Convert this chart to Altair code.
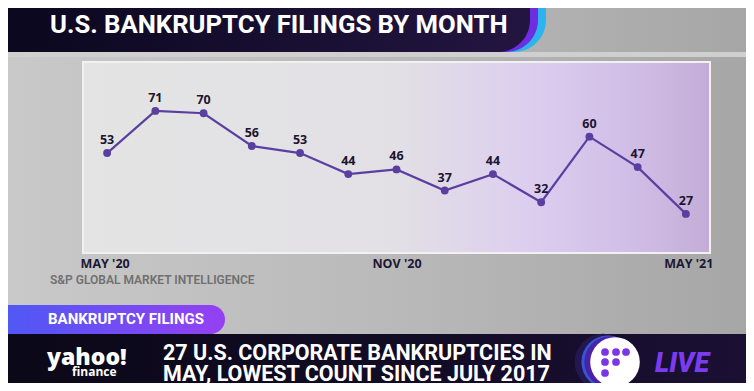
import altair as alt
import pandas as pd

# ---- data ----
months = ["MAY '20", "JUN '20", "JUL '20", "AUG '20", "SEP '20", "OCT '20", "NOV '20",
          "DEC '20", "JAN '21", "FEB '21", "MAR '21", "APR '21", "MAY '21"]
filings = [53, 71, 70, 56, 53, 44, 46, 37, 44, 32, 60, 47, 27]
axis_months = ["MAY '20", "NOV '20", "MAY '21"]

title_text = "U.S. BANKRUPTCY FILINGS BY MONTH"
source_text = "S&P GLOBAL MARKET INTELLIGENCE"
tag_text = "BANKRUPTCY FILINGS"
headline = ["27 U.S. CORPORATE BANKRUPTCIES IN", "MAY, LOWEST COUNT SINCE JULY 2017"]
logo_text = ["yahoo!", "finance"]
live_text = "LIVE"

W, H = 627, 191
PAD = {"left": 75, "top": 54, "right": 36, "bottom": 130}

df = pd.DataFrame({"month": months, "filings": filings})
one = pd.DataFrame({"k": [0]})


def grad(stops, x2=1, y2=0):
    return alt.LinearGradient(
        gradient="linear",
        stops=[alt.GradientStop(color=c, offset=o) for o, c in stops],
        x1=0, y1=0, x2=x2, y2=y2,
    )


def rect(x, x2, y, y2, color, r=0, **kw):
    return alt.Chart(one).mark_rect(color=color, cornerRadius=r, **kw).encode(
        x=alt.value(x), x2=alt.value(x2), y=alt.value(y), y2=alt.value(y2))


def text(t, x, y, size, color, weight="bold", align="left", baseline="alphabetic",
         font="Roboto", style="normal"):
    return alt.Chart(one).mark_text(
        text=t, fontSize=size, color=color, fontWeight=weight, align=align,
        baseline=baseline, font=font, fontStyle=style).encode(x=alt.value(x), y=alt.value(y))


def dot(x, y, size, color):
    return alt.Chart(one).mark_circle(size=size, color=color, opacity=1).encode(
        x=alt.value(x), y=alt.value(y))


# ---- background and banners ----
bg = rect(-80, 670, -60, 330, grad([(0, "#c9c9c9"), (0.5, "#bababa"), (1, "#a6a6a6")]))
under_title = rect(-80, 670, -10, -5, "#cfcfcf")
title_cyan = rect(-140, 463, -120, -10, "#2db4ee", r=32)
title_purple = rect(-140, 455, -120, -10, "#6c2ee0", r=32)
title_navy = rect(-140, 447, -120, -10, grad([(0, "#08061a"), (1, "#231541")]), r=32)
title_txt = text(title_text, -33, -29, 25.7, "#ffffff")

box = rect(0, W, 0, H, grad([(0, "#e4e4e4"), (0.5, "#e2e0e5"), (0.72, "#dccdef"),
                             (0.88, "#d0bde6"), (1, "#c3add7")]),
           stroke="#f1f1f1", strokeWidth=2)

source = text(source_text, -33, 221.5, 12, "#707070", weight=600)

pill = rect(-140, 142, 243, 272, grad([(0, "#3b5ff6"), (1, "#9540f2")]), r=14.5)
pill_txt = text(tag_text, -35, 262, 15, "#ffffff")

bar = rect(-80, 670, 272, 340, grad([(0, "#0b0818"), (0.6, "#130c27"), (1, "#1b1034")]))
logo1 = text(logo_text[0], -36, 303, 23, "#ffffff", weight=800, font="Open Sans")
logo2 = text(logo_text[1], -11, 313.5, 12, "#ffffff", weight=700, font="Open Sans")
head1 = text(headline[0], 80, 298, 21.5, "#ffffff")
head2 = text(headline[1], 80, 318.5, 21.5, "#ffffff")

ring_outer = dot(520, 300, 3217, "#24164f")
ring_blue = dot(525, 300, 2827, "#3457d8")
ring_purple = dot(527, 300, 2640, "#4a22a8")
ring_white = dot(532, 300, 2460, "#ffffff")
logo_dots = [dot(x, y, 60, "#7a36e6") for x, y in
             [(522, 290), (533, 290), (543, 290), (522, 300), (533, 300), (522, 311)]]
live = text(live_text, 572, 310, 27, "#7b3cf0", weight=900, style="italic")

# ---- the data chart ----
xaxis = alt.Axis(values=axis_months, labelFlush=30, labelFlushOffset=27, labelAngle=0,
                 labelFont="Open Sans", labelFontSize=12.5, labelFontWeight="bold",
                 labelColor="#1d1733", labelPadding=10, labelBaseline="middle",
                 domain=False, ticks=False, grid=False, title=None, zindex=1)
xenc = alt.X("month:N", sort=months, scale=alt.Scale(type="point", padding=0.5), axis=xaxis)
yenc = alt.Y("filings:Q", scale=alt.Scale(domain=[10.3, 91.9], nice=False, zero=False), axis=None)

base = alt.Chart(df).encode(x=xenc, y=yenc)
line = base.mark_line(color="#5b3fa0", strokeWidth=2.2)
pts = base.mark_circle(size=62, color="#5b3fa0", opacity=1)
labels = base.mark_text(dy=-13, fontSize=12.5, fontWeight="bold", color="#1c1530",
                        font="Open Sans").encode(text="filings:Q")

chart = alt.layer(
    bg, under_title, title_cyan, title_purple, title_navy, title_txt, box, line, pts, labels,
    source, pill, pill_txt, bar, logo1, logo2, head1, head2,
    ring_outer, ring_blue, ring_purple, ring_white, *logo_dots, live,
).properties(
    width=W, height=H, autosize=alt.AutoSizeParams(type="none"), padding=PAD,
    background="#bdbdbd",
).configure_view(stroke=None)

chart.save("out.html", embed_options={"renderer": "svg", "actions": False})
